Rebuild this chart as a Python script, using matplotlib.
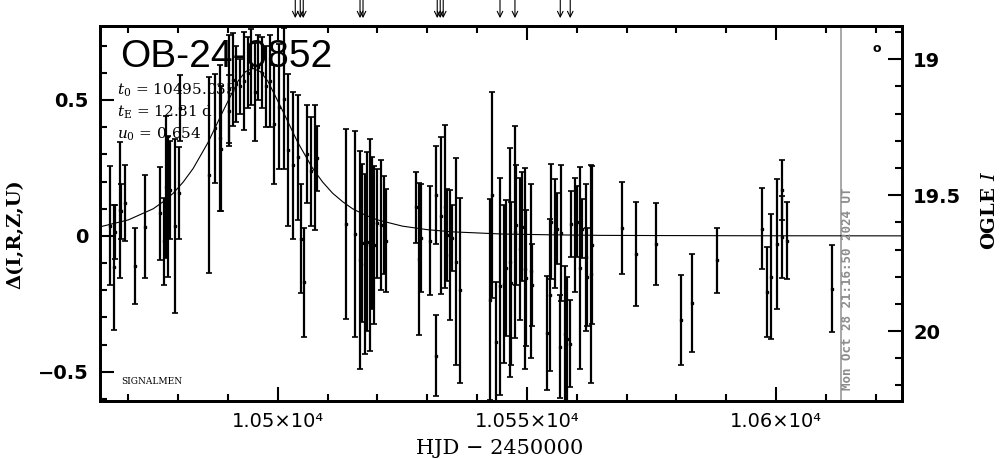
import matplotlib
matplotlib.use("Agg")
import matplotlib.pyplot as plt
from matplotlib.ticker import MultipleLocator, FuncFormatter

# === Data ===
hjd = [10466.3, 10467.1, 10467.4, 10468.3, 10468.6, 10469.3, 10471.3, 10473.3,
       10476.3, 10477.1, 10477.5, 10478.0, 10478.4, 10479.4, 10480.2, 10480.4,
       10486.2, 10487.4, 10488.5, 10490.1,
       10488.4, 10490.1, 10491.1, 10491.7, 10492.5, 10493.2, 10494.1, 10494.6,
       10495.4, 10496.1, 10496.8, 10497.6, 10498.4, 10499.2, 10500.3, 10501.3,
       10502.1, 10503.1, 10504.1, 10504.6, 10505.3, 10505.9, 10506.6, 10507.5,
       10507.8,
       10513.6, 10515.5, 10516.4, 10516.9, 10517.4, 10517.9, 10518.5, 10518.9,
       10519.4, 10519.9, 10520.7, 10521.3, 10521.7, 10527.8, 10528.4, 10528.8,
       10530.6, 10531.8, 10531.8, 10532.8, 10533.6, 10533.9, 10534.6, 10534.9,
       10535.8, 10536.6, 10543.0, 10542.6, 10543.8,
       10544.7, 10545.4, 10545.9, 10546.6, 10546.9, 10547.6, 10547.9, 10548.7,
       10549.1, 10549.6, 10549.9, 10550.8, 10551.0, 10554.0, 10554.6, 10554.8,
       10555.6, 10556.0, 10556.6, 10556.9, 10557.7, 10558.0, 10558.7, 10558.8,
       10559.7, 10560.0, 10560.7, 10561.0, 10561.9, 10562.1, 10562.8, 10563.0,
       10569.0, 10571.9, 10575.9,
       10581.0, 10583.1, 10588.2, 10597.2, 10598.2, 10599.1, 10600.2, 10601.2,
       10601.2, 10602.2, 10611.3]
delta = [0.038, -0.115, 0.014, 0.096, 0.09, 0.12, -0.11, 0.034,
         0.083, -0.02, 0.18, 0.108, 0.17, 0.038, 0.157, 0.47,
         0.224, 0.396, 0.32, 0.46,
         0.36, 0.54, 0.575, 0.56, 0.55, 0.57, 0.60, 0.62,
         0.53, 0.62, 0.60, 0.55, 0.57, 0.41, 0.475, 0.505,
         0.316, 0.26, 0.29, -0.01, -0.17, 0.30, 0.237, 0.25,
         0.285,
         0.044, 0.007, -0.088, -0.027, -0.103, -0.021, -0.033, 0.01,
         -0.033, 0.046, 0.04, 0.04, -0.017, 0.105, -0.084, -0.008,
         -0.017, 0.15, -0.44, 0.075, 0.108, 0.003, -0.07, -0.008,
         -0.095, -0.2, 0.15, -0.235, -0.39,
         -0.186, -0.176, -0.118, -0.097, -0.174, 0.016, 0.04, -0.048,
         0.034, -0.12, -0.156, -0.128, -0.18, -0.357, -0.217, 0.053,
         0.009, 0.027, -0.407, 0.009, -0.36, -0.38, -0.397, 0.044,
         0.003, 0.053, -0.118, 0.027, -0.078, -0.15, -0.14, -0.033,
         0.03, -0.066, -0.029,
         -0.309, -0.248, -0.09, 0.027, -0.205, -0.15, -0.029, 0.17,
         -0.005, -0.017, -0.195]
err = [0.22, 0.23, 0.10, 0.25, 0.10, 0.14, 0.14, 0.19,
       0.17, 0.16, 0.26, 0.26, 0.18, 0.32, 0.17, 0.12,
       0.36, 0.20, 0.23, 0.13,
       0.27, 0.20, 0.17, 0.14, 0.10, 0.18, 0.13, 0.14,
       0.18, 0.12, 0.13, 0.15, 0.17, 0.22, 0.23, 0.26,
       0.28, 0.27, 0.23, 0.20, 0.20, 0.18, 0.20, 0.23,
       0.12,
       0.35, 0.38, 0.40, 0.29, 0.33, 0.33, 0.39, 0.28,
       0.29, 0.20, 0.24, 0.18, 0.19, 0.13, 0.28, 0.20,
       0.20, 0.18, 0.15, 0.29, 0.30, 0.17, 0.24, 0.12,
       0.38, 0.34, 0.38, 0.37, 0.22,
       0.40, 0.29, 0.25, 0.42, 0.30, 0.39, 0.22, 0.26,
       0.20, 0.37, 0.25, 0.32, 0.15, 0.21, 0.28, 0.21,
       0.20, 0.13, 0.19, 0.25, 0.25, 0.23, 0.16, 0.12,
       0.21, 0.13, 0.37, 0.11, 0.27, 0.18, 0.40, 0.29,
       0.17, 0.19, 0.15,
       0.165, 0.18, 0.12, 0.15, 0.165, 0.23, 0.24, 0.11,
       0.15, 0.14, 0.16]

# model curve
model_hjd = [10464, 10470, 10475, 10477, 10479, 10481, 10483, 10486, 10489,
             10492, 10493.5, 10495, 10496.5, 10498, 10501, 10504, 10507,
             10509, 10511, 10513, 10515, 10517.5, 10520, 10525, 10530,
             10535, 10545, 10555, 10565, 10575, 10595, 10626]
model_delta = [0.032, 0.059, 0.100, 0.126, 0.157, 0.198, 0.248, 0.344, 0.459,
               0.569, 0.604, 0.616, 0.604, 0.569, 0.459, 0.344, 0.248,
               0.198, 0.157, 0.126, 0.100, 0.077, 0.059, 0.036, 0.023,
               0.015, 0.007, 0.004, 0.002, 0.0014, 0.0006, 0.0002]

arrow_hjd = [10503.5, 10504.5, 10505.1, 10516.5, 10517.1, 10532.0, 10532.6,
             10533.2, 10544.6, 10547.6, 10556.7, 10558.7]

event_name = "OB-24-0852"
param_lines = [r"$t_0$ = 10495.035", r"$t_{\rm E}$ = 12.81 d", r"$u_0$ = 0.654"]
date_stamp = "Mon Oct 28 21:16:50 2024 UT"
now_hjd = 10613.0

# === Params ===
xlim = (10464.3, 10625.3)
ylim = (-0.607, 0.772)
mag_zero = 19.65

plt.rcParams['mathtext.fontset'] = 'dejavuserif'

fig = plt.figure(figsize=(10.04, 4.59), dpi=100)
ax = fig.add_axes([0.0996, 0.1264, 0.7988, 0.8170])

ax.plot(model_hjd, model_delta, color="black", lw=0.8, zorder=2)
ax.errorbar(hjd, delta, yerr=err, fmt='s', ms=2, color="black",
            ecolor="black", elinewidth=1.6, capsize=2.2, capthick=1.2, zorder=3)
ax.axvline(now_hjd, color="#999999", lw=1.2, zorder=1)

ax.set_xlim(xlim)
ax.set_ylim(ylim)

ax.xaxis.set_major_locator(MultipleLocator(50))
ax.xaxis.set_minor_locator(MultipleLocator(10))
ax.yaxis.set_major_locator(MultipleLocator(0.5))
ax.yaxis.set_minor_locator(MultipleLocator(0.1))
ax.xaxis.set_major_formatter(FuncFormatter(lambda v, p: f"{v/1e4:g}\u00d710\u2074"))
ax.yaxis.set_major_formatter(FuncFormatter(
    lambda v, p: "0" if abs(v) < 1e-9 else f"{v:g}".replace("-", "\u2212")))

ax.tick_params(which='both', direction='in', top=True, right=False, width=1.5)
ax.tick_params(which='major', length=10, labelsize=14, pad=8)
ax.tick_params(which='minor', length=5)
for lab in ax.get_xticklabels():
    lab.set_fontfamily('DejaVu Sans')
for lab in ax.get_yticklabels():
    lab.set_fontweight('bold')
for s in ax.spines.values():
    s.set_linewidth(2)

ax2 = ax.twinx()
ax2.set_ylim(mag_zero - ylim[0], mag_zero - ylim[1])
ax2.yaxis.set_major_locator(MultipleLocator(0.5))
ax2.yaxis.set_minor_locator(MultipleLocator(0.1))
ax2.yaxis.set_major_formatter(FuncFormatter(lambda v, p: f"{v:g}"))
ax2.tick_params(which='both', direction='in', width=1.5)
ax2.tick_params(which='major', length=10, labelsize=14, pad=8)
ax2.tick_params(which='minor', length=5)
for lab in ax2.get_yticklabels():
    lab.set_fontweight('bold')
for s in ax2.spines.values():
    s.set_linewidth(2)

for t in arrow_hjd:
    ax.annotate('', xy=(t, 1.021), xytext=(t, 1.069),
                xycoords=('data', 'axes fraction'),
                textcoords=('data', 'axes fraction'),
                arrowprops=dict(arrowstyle='->', lw=0.8, color='black',
                                shrinkA=0, shrinkB=0),
                annotation_clip=False)

ax.text(0.025, 0.890, event_name, transform=ax.transAxes, fontsize=28,
        family='Liberation Sans', ha='left', va='baseline', zorder=1)
for i, line in enumerate(param_lines):
    ax.text(0.021, 0.818 - i * 0.059, line, transform=ax.transAxes,
            fontsize=11, family='DejaVu Serif', ha='left', va='baseline', zorder=1)
ax.text(0.027, 0.045, "SIGNALMEN", transform=ax.transAxes, fontsize=6.5,
        family='DejaVu Serif', ha='left', va='baseline', zorder=1)
ax.text(0.969, 0.94, "o", transform=ax.transAxes, fontsize=9,
        fontweight='bold', ha='center', va='center')

fig.text(0.015, 0.49, "\u0394(I,R,Z,U)", rotation=90, fontsize=14,
         family='DejaVu Serif', fontweight='bold', ha='center', va='center')
fig.text(0.986, 0.5425, "OGLE $I$", rotation=90, fontsize=14,
         family='DejaVu Serif', fontweight='bold', ha='center', va='center')
fig.text(0.498, 0.022, "HJD \u2212 2450000", fontsize=15,
         family='DejaVu Serif', ha='center', va='center')
fig.text(848 / 1004, 0.150, date_stamp, rotation=90, fontsize=9,
         family='DejaVu Sans Mono', fontweight='bold', color='#8c8c8c',
         ha='center', va='bottom')

fig.savefig("out.png", dpi=100)
